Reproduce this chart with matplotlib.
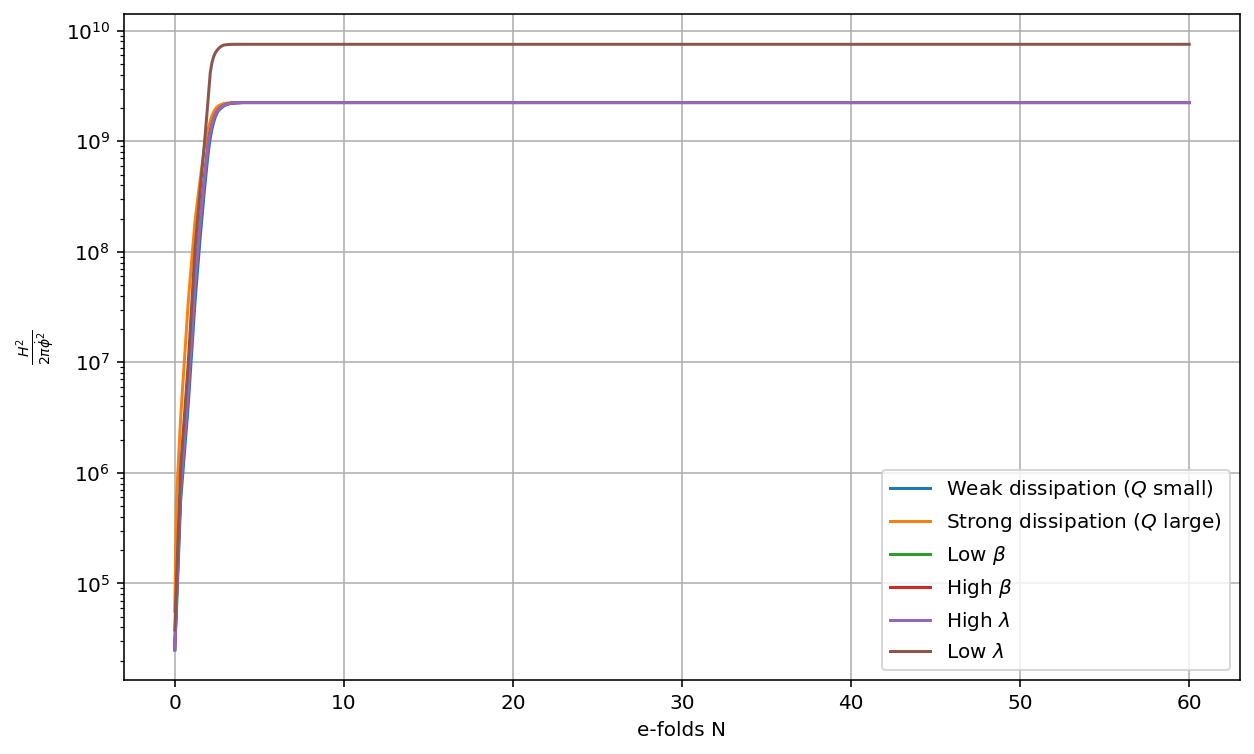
import numpy as np
import matplotlib
matplotlib.use('Agg')
import matplotlib.pyplot as plt

# e-folds sample points
N = [0, 0.1, 0.35, 0.8, 1.2, 1.5, 1.75, 1.9, 2.0, 2.1, 2.2, 2.3, 2.4, 2.5, 2.6,
     2.75, 2.9, 3.1, 3.3, 3.6, 4.0, 5, 10, 20, 30, 40, 50, 60]

# log10 of H^2 / (2 pi phidot^2)
weak_log = [4.4, 4.75, 5.75, 6.62, 7.55, 8.12, 8.55, 8.78, 8.92, 9.03, 9.11, 9.17,
            9.22, 9.255, 9.28, 9.30, 9.318, 9.333, 9.342, 9.347, 9.35,
            9.35, 9.35, 9.35, 9.35, 9.35, 9.35, 9.35]
strong_log = [4.75, 5.75, 6.5, 7.55, 8.28, 8.65, 8.94, 9.05, 9.12, 9.18, 9.23, 9.265,
              9.29, 9.31, 9.322, 9.333, 9.34, 9.345, 9.348, 9.35, 9.35,
              9.35, 9.35, 9.35, 9.35, 9.35, 9.35, 9.35]
low_beta_log = [4.4, 4.85, 5.85, 6.75, 7.7, 8.25, 8.65, 8.87, 9.0, 9.08, 9.15, 9.2,
                9.24, 9.27, 9.29, 9.31, 9.325, 9.337, 9.344, 9.348, 9.35,
                9.35, 9.35, 9.35, 9.35, 9.35, 9.35, 9.35]
high_beta_log = [4.4, 4.85, 5.85, 6.75, 7.7, 8.25, 8.65, 8.87, 9.0, 9.08, 9.15, 9.2,
                 9.24, 9.27, 9.29, 9.31, 9.325, 9.337, 9.344, 9.348, 9.35,
                 9.35, 9.35, 9.35, 9.35, 9.35, 9.35, 9.35]
high_lambda_log = [4.4, 4.85, 5.85, 6.75, 7.7, 8.25, 8.65, 8.87, 9.0, 9.08, 9.15, 9.2,
                   9.24, 9.27, 9.29, 9.31, 9.325, 9.337, 9.344, 9.348, 9.35,
                   9.35, 9.35, 9.35, 9.35, 9.35, 9.35, 9.35]
low_lambda_log = [4.58, 5.0, 6.05, 7.0, 8.03, 8.55, 8.97, 9.24, 9.43, 9.62, 9.71, 9.765,
                  9.80, 9.822, 9.84, 9.86, 9.87, 9.874, 9.876, 9.877, 9.877,
                  9.877, 9.877, 9.877, 9.877, 9.877, 9.877, 9.877]

labels = ['Weak dissipation ($Q$ small)', 'Strong dissipation ($Q$ large)',
          r'Low $\beta$', r'High $\beta$', r'High $\lambda$', r'Low $\lambda$']
series = [weak_log, strong_log, low_beta_log, high_beta_log, high_lambda_log, low_lambda_log]

fig, ax = plt.subplots(figsize=(1254 / 144, 754 / 144), dpi=144)
fig.subplots_adjust(left=0.0989, right=0.9888, top=0.9814, bottom=0.0981)

for lab, s in zip(labels, series):
    ax.plot(N, 10 ** np.array(s), label=lab)

ax.set_yscale('log')
ax.set_xlabel('e-folds N')
ax.set_ylabel(r'$\frac{H^2}{2\pi\dot{\phi}^2}$')
ax.grid(True)
ax.legend(loc='lower right')

plt.savefig('out.png', dpi=144)
